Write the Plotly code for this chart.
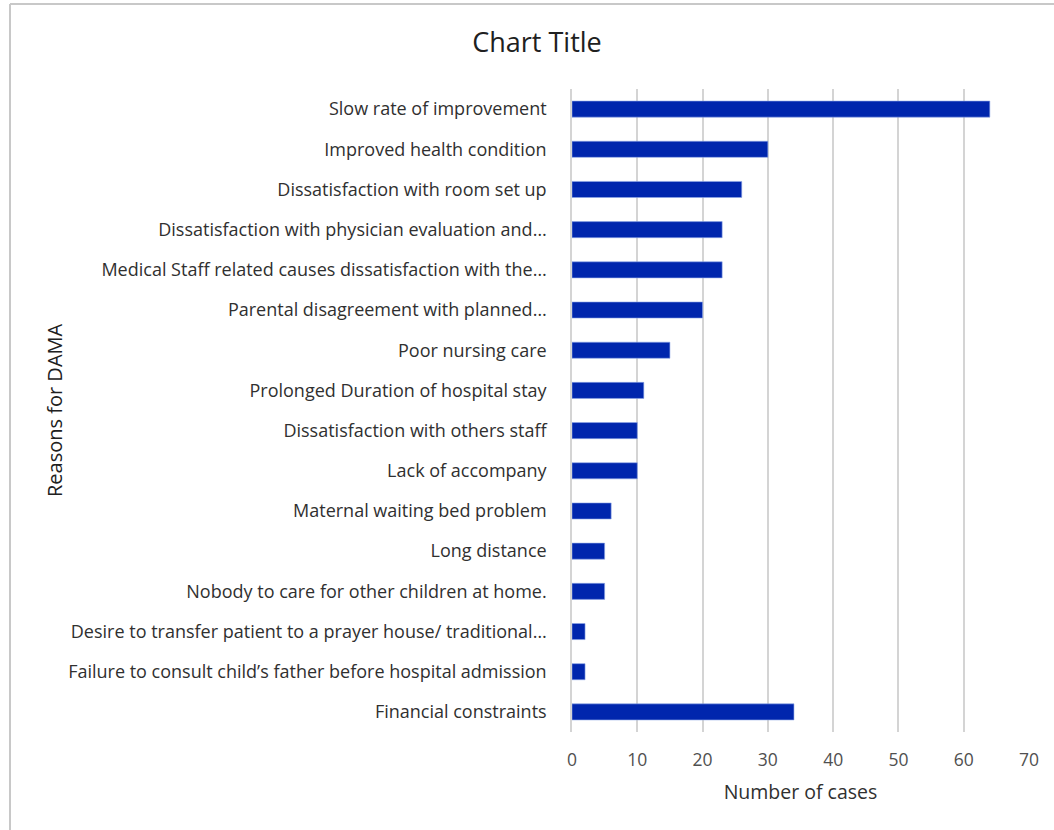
import plotly.graph_objects as go

reasons = [
    "Slow rate of improvement",
    "Improved health condition",
    "Dissatisfaction with room set up",
    "Dissatisfaction with physician evaluation and…",
    "Medical Staff related causes dissatisfaction with the…",
    "Parental disagreement with planned…",
    "Poor nursing care",
    "Prolonged Duration of hospital stay",
    "Dissatisfaction with others staff",
    "Lack of accompany",
    "Maternal waiting bed problem",
    "Long distance",
    "Nobody to care for other children at home.",
    "Desire to transfer patient to a prayer house/ traditional…",
    "Failure to consult child’s father before hospital admission",
    "Financial constraints",
]
cases = [64, 30, 26, 23, 23, 20, 15, 11, 10, 10, 6, 5, 5, 2, 2, 34]
x_ticks = [0, 10, 20, 30, 40, 50, 60, 70]

W, H = 1054, 830
L, R, T, B = 572, 25, 89, 98
pw, ph = W - L - R, H - T - B

def px(x):
    return (x - L) / pw

def py(y):
    return (H - B - y) / ph

FONT = "Open Sans, Noto Sans, sans-serif"

fig = go.Figure(go.Bar(
    x=cases, y=reasons, orientation="h",
    marker=dict(color="#0026AD", line=dict(color="#8FA8E8", width=0.6)),
    width=0.4,
))

fig.update_layout(
    width=W, height=H,
    margin=dict(l=L, r=R, t=T, b=B),
    paper_bgcolor="white", plot_bgcolor="white",
    font=dict(family=FONT, color="#404040"),
    title=dict(text="Chart Title", x=537 / W, xref="container", xanchor="center",
               y=1 - 43 / H, yref="container", yanchor="middle",
               font=dict(size=27, color="#202020")),
    showlegend=False,
    xaxis=dict(
        range=[0, 70], tickvals=x_ticks, showgrid=True,
        gridcolor="#D4D4D4", gridwidth=1.5, zeroline=False,
        tickfont=dict(size=17.5, color="#505050"), ticks="",
        ticklabelstandoff=15,
        title=dict(text="Number of cases", font=dict(size=19.5, color="#303030"),
                   standoff=15),
    ),
    yaxis=dict(
        categoryorder="array", categoryarray=reasons, autorange="reversed",
        tickfont=dict(size=18, color="#303030"), ticks="",
        ticklabelstandoff=20, showgrid=False,
        showline=True, linecolor="#D4D4D4", linewidth=1.5,
    ),
    annotations=[
        dict(text="Reasons for DAMA", textangle=-90, showarrow=False,
             xref="paper", yref="paper", x=px(55), y=py(410),
             xanchor="center", yanchor="middle",
             font=dict(size=20, color="#202020", family=FONT)),
    ],
    shapes=[
        dict(type="line", xref="paper", yref="paper",
             x0=px(10), x1=px(W), y0=py(4), y1=py(4),
             line=dict(color="#C8C8C8", width=2)),
        dict(type="line", xref="paper", yref="paper",
             x0=px(10), x1=px(10), y0=py(4), y1=py(H),
             line=dict(color="#C8C8C8", width=2)),
    ],
)

fig.write_html("out.html")
